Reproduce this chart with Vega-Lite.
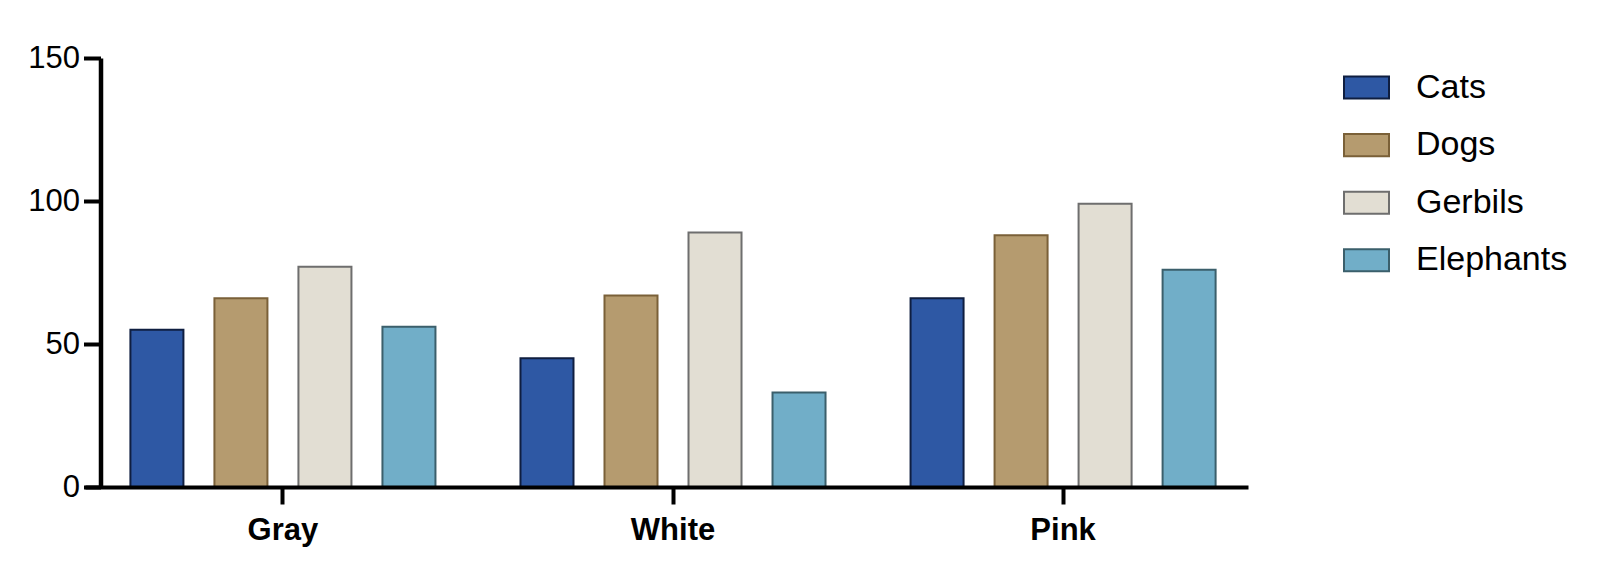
{
  "$schema": "https://vega.github.io/schema/vega-lite/v6.json",
  "width": 1163,
  "height": 429,
  "autosize": {"type": "none"},
  "padding": {"left": 85, "top": 58, "right": 352, "bottom": 86},
  "background": "white",
  "config": {"view": {"stroke": null}},
  "data": {
    "values": [
      {"color": "Gray", "animal": "Cats", "value": 55},
      {"color": "Gray", "animal": "Dogs", "value": 66},
      {"color": "Gray", "animal": "Gerbils", "value": 77},
      {"color": "Gray", "animal": "Elephants", "value": 56},
      {"color": "White", "animal": "Cats", "value": 45},
      {"color": "White", "animal": "Dogs", "value": 67},
      {"color": "White", "animal": "Gerbils", "value": 89},
      {"color": "White", "animal": "Elephants", "value": 33},
      {"color": "Pink", "animal": "Cats", "value": 66},
      {"color": "Pink", "animal": "Dogs", "value": 88},
      {"color": "Pink", "animal": "Gerbils", "value": 99},
      {"color": "Pink", "animal": "Elephants", "value": 76}
    ]
  },
  "mark": {"type": "bar", "strokeWidth": 2},
  "encoding": {
    "x": {
      "field": "color",
      "type": "nominal",
      "sort": ["Gray", "White", "Pink"],
      "scale": {"paddingInner": 0.1385, "paddingOuter": 0.06, "align": 0.639},
      "axis": {
        "title": null,
        "labelAngle": 0,
        "labelFont": "Liberation Sans",
        "labelFontSize": 31,
        "labelFontWeight": "bold",
        "labelColor": "black",
        "labelPadding": 11,
        "domainColor": "black",
        "domainWidth": 4,
        "tickColor": "black",
        "tickWidth": 4,
        "tickSize": 17,
        "zindex": 1
      }
    },
    "xOffset": {
      "field": "animal",
      "type": "nominal",
      "sort": ["Cats", "Dogs", "Gerbils", "Elephants"],
      "scale": {"paddingInner": 0.369, "paddingOuter": 0.1845}
    },
    "y": {
      "field": "value",
      "type": "quantitative",
      "scale": {"domain": [0, 150], "nice": false},
      "axis": {
        "title": null,
        "values": [0, 50, 100, 150],
        "grid": false,
        "offset": -15.5,
        "labelFont": "Liberation Sans",
        "labelFontSize": 31,
        "labelColor": "black",
        "labelPadding": 4,
        "domainColor": "black",
        "domainWidth": 4.5,
        "tickColor": "black",
        "tickWidth": 4,
        "tickSize": 17,
        "zindex": 1
      }
    },
    "fill": {
      "field": "animal",
      "type": "nominal",
      "sort": ["Cats", "Dogs", "Gerbils", "Elephants"],
      "scale": {
        "domain": ["Cats", "Dogs", "Gerbils", "Elephants"],
        "range": ["#2E58A4", "#B59B6F", "#E2DED3", "#71AEC8"]
      },
      "legend": {
        "title": null,
        "orient": "none",
        "legendX": 1258,
        "legendY": 6,
        "symbolType": "M-1,-0.49H1V0.49H-1Z",
        "symbolSize": 2025,
        "symbolStrokeWidth": 2,
        "labelFont": "Liberation Sans",
        "labelFontSize": 34,
        "labelColor": "black",
        "labelOffset": 26,
        "rowPadding": 16.6,
        "padding": 0
      }
    },
    "stroke": {
      "field": "animal",
      "type": "nominal",
      "sort": ["Cats", "Dogs", "Gerbils", "Elephants"],
      "scale": {
        "domain": ["Cats", "Dogs", "Gerbils", "Elephants"],
        "range": ["#0F1E40", "#7A6038", "#6E6E6E", "#3B5F6B"]
      },
      "legend": {
        "title": null,
        "orient": "none",
        "legendX": 1258,
        "legendY": 6,
        "symbolType": "M-1,-0.49H1V0.49H-1Z",
        "symbolSize": 2025,
        "symbolStrokeWidth": 2,
        "labelFont": "Liberation Sans",
        "labelFontSize": 34,
        "labelColor": "black",
        "labelOffset": 26,
        "rowPadding": 16.6,
        "padding": 0
      }
    }
  }
}
